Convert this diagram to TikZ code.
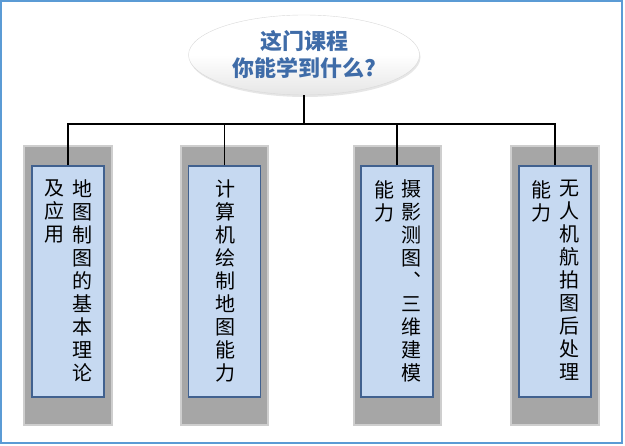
\documentclass[tikz,border=0pt]{standalone}
\usepackage{fontspec}
\usepackage{tikz}
\usetikzlibrary{calc,shapes.geometric,shadows}
\newfontfamily\cjk{Noto Sans CJK SC}
\definecolor{framebl}{HTML}{5B9BD5}
\definecolor{titlebl}{HTML}{3F6CA8}
\definecolor{boxfill}{HTML}{C6D9F1}
\definecolor{boxedge}{HTML}{41618F}
\definecolor{backgr}{HTML}{A6A6A6}

\begin{document}
\begin{tikzpicture}[x=1pt, y=-1pt,
  backdrop/.style={fill=backgr, draw=backgr!55, line width=2.5pt},
  topicbox/.style={draw=boxedge, fill=boxfill, line width=1.4pt, minimum width=72pt, minimum height=231pt, inner sep=0pt},
  column/.style={font=\cjk\fontsize{20}{23}\selectfont, align=center, anchor=north, inner sep=0pt},
  wire/.style={black, line width=1.3pt}]
  \useasboundingbox (0,0) rectangle (625,446);
  \draw[framebl, line width=1.5pt] (1,1) rectangle (622,443);
  % grey backdrops
  \draw[backdrop] (24,146) rectangle (112,425);
  \draw[backdrop] (181,146) rectangle (268,425);
  \draw[backdrop] (354,146) rectangle (441,425);
  \draw[backdrop] (511,146) rectangle (599,425);
  % title
  \node[ellipse, minimum width=231pt, minimum height=80pt, top color=white, bottom color=gray!20, middle color=white, draw=gray!30, drop shadow={opacity=0.2, shadow xshift=1pt, shadow yshift=-2pt}, font=\cjk\bfseries\fontsize{22}{27}\selectfont, text=titlebl, align=center] (title) at (304,55) {这门课程\\你能学到什么?};
  % boxes
  \node[topicbox] (box1) at (68,281.5) {};
  \node[topicbox] (box2) at (224.5,281.5) {};
  \node[topicbox] (box3) at (397,281.5) {};
  \node[topicbox] (box4) at (555,281.5) {};
  \node[column] (text1a) at (82,180) {地\\图\\制\\图\\的\\基\\本\\理\\论};
  \node[column] (text1b) at (55,180) {及\\应\\用};
  \node[column] (text2) at (225,180) {计\\算\\机\\绘\\制\\地\\图\\能\\力};
  \node[column] (text3a) at (411,180) {摄\\影\\测\\图\\︑\\三\\维\\建\\模};
  \node[column] (text3b) at (384,180) {能\\力};
  \node[column] (text4a) at (569,180) {无\\人\\机\\航\\拍\\图\\后\\处\\理};
  \node[column] (text4b) at (541,180) {能\\力};
  % connectors
  \coordinate (bus) at (304,124);
  \draw[wire] (title.south) -- (bus);
  \draw[wire] (box1.north) |- (bus) -| (box4.north);
  \draw[wire] (box2.north) -- (box2.north |- bus);
  \draw[wire] (box3.north) -- (box3.north |- bus);
\end{tikzpicture}
\end{document}
